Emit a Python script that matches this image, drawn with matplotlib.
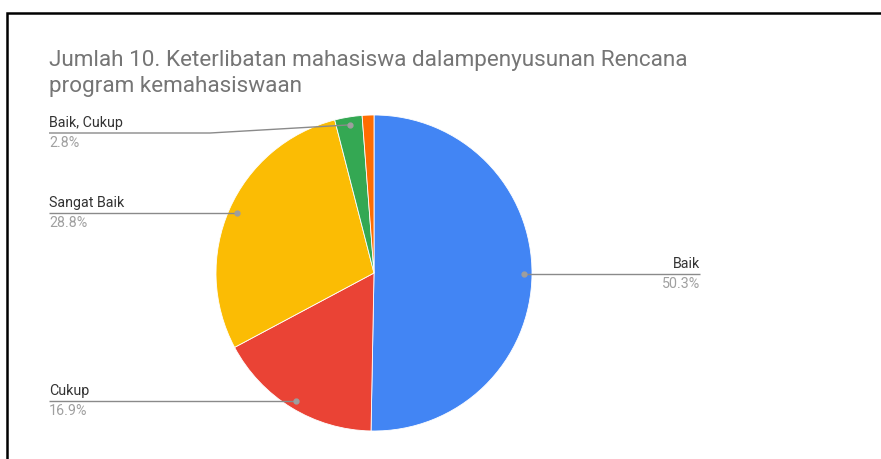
import numpy as np
import matplotlib
matplotlib.use("Agg")
import matplotlib.pyplot as plt
from matplotlib.patches import Rectangle

plt.rcParams['font.family'] = ['Roboto', 'DejaVu Sans']

title = "Jumlah 10. Keterlibatan mahasiswa dalampenyusunan Rencana\nprogram kemahasiswaan"
categories = ["Baik", "Cukup", "Sangat Baik", "Baik, Cukup", "Lainnya"]
values = [50.3, 16.9, 28.8, 2.8, 1.2]
colors = ["#4285f4", "#ea4335", "#fbbc04", "#34a853", "#ff6d01"]
show_label = [True, True, True, True, False]

W, H = 881, 459
fig = plt.figure(figsize=(W / 100, H / 100), dpi=100)

# figure border (left & top visible)
fig.patches.append(Rectangle((7 / W, -0.2), 1.2, (H - 13) / H + 0.2, transform=fig.transFigure,
                             fill=False, edgecolor="#000000", linewidth=1.8))

cx, cy, R = 374, 273, 158
ax = fig.add_axes([(cx - R) / W, (H - cy - R) / H, 2 * R / W, 2 * R / H])
wedges, _ = ax.pie(values, colors=colors, startangle=90, counterclock=False,
                   radius=1.0, wedgeprops=dict(linewidth=0.6, edgecolor="white"))
ax.set_xlim(-1, 1)
ax.set_ylim(-1, 1)
ax.set_aspect('equal')
ax.axis('off')

def px2d(x, y):
    return (x - cx) / R, (cy - y) / R

label_x_left = px2d(49, 0)[0]
label_x_right = px2d(700, 0)[0]
line_col = "#8a8a8a"
for i, w in enumerate(wedges):
    if not show_label[i]:
        continue
    ang = np.deg2rad((w.theta1 + w.theta2) / 2)
    dx, dy = 0.95 * np.cos(ang), 0.95 * np.sin(ang)
    pct = "%.1f%%" % values[i]
    if dx >= 0:
        xs = [dx, label_x_right]
        ys = [dy, dy]
        tx, ha, ly = label_x_right, 'right', dy
    else:
        if dy > 0.85:
            ly = px2d(0, 133)[1]
            knee = px2d(210, 0)[0]
            xs = [dx, knee, label_x_left]
            ys = [dy, ly, ly]
        else:
            ly = dy
            xs = [dx, label_x_left]
            ys = [dy, dy]
        tx, ha = label_x_left, 'left'
    ax.plot(xs, ys, color=line_col, lw=1.0, clip_on=False, solid_capstyle='butt')
    ax.plot([dx], [dy], 'o', color="#9e9e9e", ms=3.5, clip_on=False)
    ax.text(tx, ly + 3 / R, categories[i], ha=ha, va='bottom', fontsize=10.3,
            color="#333333", clip_on=False)
    ax.text(tx, ly - 3 / R, pct, ha=ha, va='top', fontsize=10.3,
            color="#a0a0a0", clip_on=False)

fig.text(49 / W, 1 - 50 / H, title, ha='left', va='top', fontsize=16.2,
         color="#757575", linespacing=1.32)

fig.savefig("out.png", dpi=100)
